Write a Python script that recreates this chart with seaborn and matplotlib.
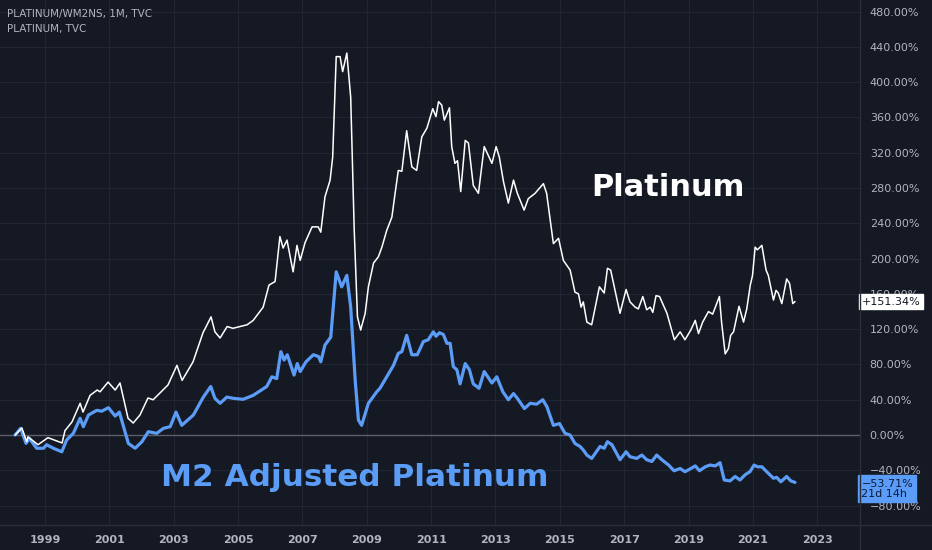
import pandas as pd
import seaborn as sns
import matplotlib.pyplot as plt
from matplotlib.lines import Line2D
from matplotlib.ticker import FixedLocator, FuncFormatter

# Platinum, % change since Jan 1998 (decimal years)
plat_t = [1998.07, 1998.28, 1998.43, 1998.47, 1998.78, 1999.09, 1999.53, 1999.62, 1999.84,
          2000.09, 2000.18, 2000.40, 2000.62, 2000.71, 2000.96, 2001.18, 2001.33, 2001.58,
          2001.74, 2001.95, 2002.20, 2002.36, 2002.57, 2002.82, 2003.10, 2003.26, 2003.60,
          2003.91, 2004.16, 2004.28, 2004.44, 2004.66, 2004.84, 2005.28, 2005.47, 2005.78,
          2005.96, 2006.15, 2006.30, 2006.40, 2006.52, 2006.71, 2006.83, 2006.93, 2007.08,
          2007.30, 2007.49, 2007.57, 2007.70, 2007.86, 2007.94, 2008.05, 2008.17, 2008.25,
          2008.38, 2008.50, 2008.61, 2008.71, 2008.81, 2008.95, 2009.05, 2009.21, 2009.36,
          2009.47, 2009.62, 2009.78, 2009.88, 2009.98, 2010.09, 2010.24, 2010.40, 2010.55,
          2010.71, 2010.87, 2011.05, 2011.15, 2011.23, 2011.33, 2011.41, 2011.57, 2011.64,
          2011.74, 2011.82, 2011.92, 2012.06, 2012.16, 2012.31, 2012.47, 2012.65, 2012.89,
          2013.02, 2013.12, 2013.25, 2013.40, 2013.56, 2013.68, 2013.89, 2014.02, 2014.23,
          2014.49, 2014.59, 2014.80, 2014.96, 2015.11, 2015.32, 2015.47, 2015.58, 2015.66,
          2015.73, 2015.84, 2015.99, 2016.23, 2016.38, 2016.48, 2016.58, 2016.87, 2017.06,
          2017.18, 2017.34, 2017.44, 2017.58, 2017.70, 2017.81, 2017.89, 2017.99, 2018.10,
          2018.33, 2018.56, 2018.74, 2018.89, 2019.07, 2019.21, 2019.31, 2019.44, 2019.62,
          2019.75, 2019.96, 2020.03, 2020.14, 2020.24, 2020.31, 2020.40, 2020.57, 2020.71,
          2020.81, 2020.92, 2020.99, 2021.07, 2021.14, 2021.28, 2021.41, 2021.48, 2021.64,
          2021.72, 2021.79, 2021.90, 2022.05, 2022.14, 2022.24, 2022.31]
plat_pct = [0, 8, -7.6, -2, -11, -3, -9, 5, 15,
            36, 26, 45, 51, 49, 60, 51, 59, 19,
            13.6, 22.7, 42, 40, 47.6, 56.7, 79, 62, 83,
            116, 134, 117, 110, 123, 121, 125, 130, 145,
            170, 174, 225, 212, 221, 185, 215, 198, 218,
            236, 236, 230, 270, 289, 315, 429, 429, 412,
            433, 383, 232, 134, 119, 138, 168, 195, 202,
            213, 232, 247, 274, 300, 299, 345, 304, 300,
            338, 348, 370, 361, 378, 374, 357, 371, 327,
            308, 311, 276, 334, 331, 283, 274, 327, 308,
            327, 315, 287, 263, 289, 274, 255, 268, 274,
            285, 274, 217, 223, 198, 187, 162, 160, 145,
            151, 128, 125, 168, 161, 189, 187, 138, 165,
            151, 145, 143, 157, 142, 145, 139, 158, 157,
            138, 108, 117, 108, 119, 130, 115, 128, 140,
            137, 157, 127, 92, 98, 113, 117, 146, 128,
            143, 170, 181, 213, 210, 215, 187, 181, 153,
            164, 161, 149, 177, 172, 149, 151.34]

# Platinum / M2, % change since Jan 1998
m2_t = [1998.07, 1998.24, 1998.41, 1998.51, 1998.74, 1998.95, 1999.05, 1999.26, 1999.52,
        1999.67, 1999.88, 2000.09, 2000.19, 2000.35, 2000.61, 2000.76, 2000.97, 2001.18,
        2001.31, 2001.59, 2001.80, 2002.01, 2002.21, 2002.47, 2002.68, 2002.89, 2003.07,
        2003.25, 2003.61, 2003.92, 2004.15, 2004.28, 2004.44, 2004.65, 2004.85, 2005.16,
        2005.47, 2005.89, 2006.05, 2006.20, 2006.33, 2006.43, 2006.53, 2006.74, 2006.84,
        2006.93, 2007.11, 2007.34, 2007.50, 2007.57, 2007.70, 2007.88, 2008.05, 2008.22,
        2008.38, 2008.50, 2008.64, 2008.74, 2008.84, 2009.05, 2009.31, 2009.41, 2009.62,
        2009.83, 2009.98, 2010.09, 2010.24, 2010.40, 2010.57, 2010.76, 2010.91, 2011.07,
        2011.15, 2011.26, 2011.38, 2011.49, 2011.59, 2011.69, 2011.80, 2011.90, 2012.06,
        2012.19, 2012.31, 2012.49, 2012.65, 2012.89, 2013.04, 2013.23, 2013.40, 2013.56,
        2013.68, 2013.90, 2014.08, 2014.28, 2014.47, 2014.60, 2014.80, 2014.99, 2015.16,
        2015.32, 2015.47, 2015.63, 2015.73, 2015.84, 2015.99, 2016.25, 2016.38, 2016.48,
        2016.62, 2016.87, 2017.06, 2017.18, 2017.39, 2017.55, 2017.70, 2017.86, 2018.01,
        2018.17, 2018.38, 2018.55, 2018.74, 2018.89, 2019.07, 2019.21, 2019.34, 2019.52,
        2019.67, 2019.83, 2019.98, 2020.11, 2020.29, 2020.45, 2020.60, 2020.76, 2020.91,
        2021.04, 2021.14, 2021.28, 2021.43, 2021.64, 2021.74, 2021.87, 2022.05, 2022.18,
        2022.31]
m2_pct = [0, 7.6, -9.5, -3.8, -15, -15, -11, -15, -19,
          -5.7, 2, 19, 9.5, 22.7, 28, 27, 31, 21.5,
          26, -9.5, -15, -7.6, 3.8, 1.9, 7.6, 9.5, 26,
          11, 22.7, 43, 55, 41.6, 36, 43, 41.6, 40.5,
          45, 55, 66, 64, 94.5, 85, 91, 68, 81,
          72, 83, 91, 89, 83, 102, 111, 185, 168,
          181, 145, 62, 17, 11, 36, 49, 53, 66,
          79, 92.6, 94.5, 113, 91, 91, 106, 108, 117,
          112, 116, 114, 104, 104, 77.5, 74, 58, 81,
          74, 58, 53, 72, 59, 66, 49, 40, 47,
          41.6, 30, 36, 35, 40, 32, 11, 13, 2,
          0, -9.5, -13, -17, -22.7, -26.5, -13, -15, -7.6,
          -11, -28, -19, -24.6, -26.5, -22.7, -28, -30, -22.7,
          -28, -34, -40.5, -38, -41.6, -38, -35, -40.5, -36,
          -34, -35, -31.4, -51, -52, -47, -51, -45, -41.6,
          -34, -36, -36, -41.6, -49, -48, -53, -47, -52,
          -53.71]

year_ticks = list(range(1999, 2024, 2))
pct_ticks = list(range(-80, 481, 40))

bg = "#151924"
grid_c = "#222632"
text_c = "#b2b5be"
blue = "#5b9cf6"

sns.set_theme(style="dark")
plt.rcParams["font.family"] = ["DejaVu Sans"]

fig = plt.figure(figsize=(9.32, 5.5), dpi=100, facecolor=bg)
ax = fig.add_axes([0, 25 / 550, 860 / 932, 525 / 550])
ax.set_facecolor(bg)

plat = pd.DataFrame({"t": plat_t, "pct": plat_pct})
m2 = pd.DataFrame({"t": m2_t, "pct": m2_pct})

ax.axhline(0, color="#5d606b", lw=1, zorder=1)
sns.lineplot(data=m2, x="t", y="pct", ax=ax, color=blue, lw=2.3, zorder=3)
sns.lineplot(data=plat, x="t", y="pct", ax=ax, color="white", lw=1.1, zorder=4)

ax.set_xlim(1997.60, 2024.33)
ax.set_ylim(-102, 493.2)
ax.set_xlabel("")
ax.set_ylabel("")

ax.xaxis.set_major_locator(FixedLocator(year_ticks))
ax.yaxis.set_major_locator(FixedLocator(pct_ticks))
ax.yaxis.set_major_formatter(FuncFormatter(lambda v, p: f"{v:.2f}%".replace("-", "\u2212")))
ax.yaxis.tick_right()
ax.tick_params(axis="y", length=0, pad=7, labelsize=8, labelcolor=text_c)
ax.tick_params(axis="x", length=0, pad=7, labelsize=8, labelcolor=text_c)
for lab in ax.get_xticklabels():
    lab.set_fontweight("bold")
ax.grid(True, color=grid_c, lw=0.8)
for s in ax.spines.values():
    s.set_visible(False)

# panel separators
fig.add_artist(Line2D([860 / 932, 860 / 932], [0, 1], color="#2a2e39", lw=1))
fig.add_artist(Line2D([0, 1], [25 / 550, 25 / 550], color="#2a2e39", lw=1))

# header
fig.text(7 / 932, 1 - 14 / 550, "PLATINUM/WM2NS, 1M, TVC", color=text_c, fontsize=7.5,
         va="center", ha="left")
fig.text(7 / 932, 1 - 29 / 550, "PLATINUM, TVC", color=text_c, fontsize=7.5,
         va="center", ha="left")

# series annotations
ax.text(2018.37, 281, "Platinum", color="white", fontsize=22, fontweight="bold",
        ha="center", va="center")
ax.text(2008.64, -48, "M2 Adjusted Platinum", color=blue, fontsize=22.4, fontweight="bold",
        ha="center", va="center")

# last value labels on the price scale
ax.annotate(f"+{plat_pct[-1]:.2f}%", xy=(1, plat_pct[-1]), xycoords=("axes fraction", "data"),
            xytext=(1, 0), textcoords="offset points", ha="left", va="center",
            fontsize=8, color="#131722", annotation_clip=False,
            bbox=dict(boxstyle="square,pad=0.25", fc="white", ec="white"), zorder=10)
ax.annotate(f"{m2_pct[-1]:.2f}%".replace("-", "\u2212") + "\n21d 14h", xy=(1, m2_pct[-1] - 7),
            xycoords=("axes fraction", "data"), xytext=(1, 0), textcoords="offset points",
            ha="left", va="center", fontsize=8, color="#0c1a3a", linespacing=1.0,
            annotation_clip=False,
            bbox=dict(boxstyle="square,pad=0.3", fc=blue, ec=blue), zorder=10)

fig.savefig("out.png", dpi=100, facecolor=bg)
